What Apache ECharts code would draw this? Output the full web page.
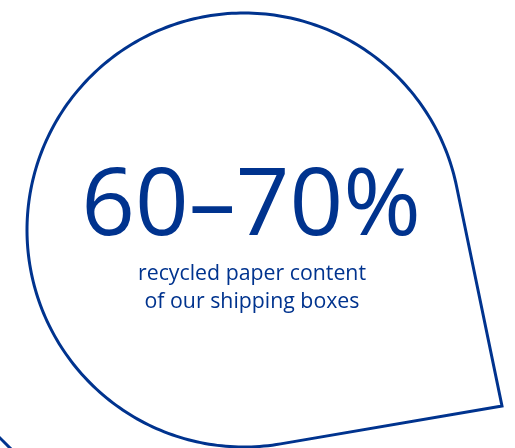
<!DOCTYPE html>
<html>
<head>
<meta charset="utf-8">
<script src="https://cdn.jsdelivr.net/npm/echarts@6/dist/echarts.min.js"></script>
<style>
html,body{margin:0;padding:0;background:#fff;}
#chart{width:515px;height:448px;}
</style>
</head>
<body>
<div id="chart"></div>
<script>
// Data
var rangeValues = [60, 70];
var rangeUnit = '%';
var captionLines = ['recycled paper content', 'of our shipping boxes'];

var BLUE = '#00338e';
var chart = echarts.init(document.getElementById('chart'), null, {renderer: 'canvas'});

// teardrop geometry (circle + pointed corner)
var cx = 244, cy = 230, r = 217;
var px = 502, py = 406;
var dx = px - cx, dy = py - cy, d = Math.sqrt(dx * dx + dy * dy);
var base = Math.atan2(dy, dx), alpha = Math.acos(r / d);
var a1 = base - alpha, a2 = base + alpha;
var pts = [];
var start = a1, end = a2 - 2 * Math.PI;
var N = 240;
for (var i = 0; i <= N; i++) {
  var a = start + (end - start) * i / N;
  pts.push([cx + r * Math.cos(a), cy + r * Math.sin(a)]);
}
pts.push([px, py]);

var headline = rangeValues[0] + '\u2013' + rangeValues[1] + rangeUnit;

chart.setOption({
  animation: false,
  backgroundColor: '#ffffff',
  graphic: [
    {
      type: 'polygon',
      shape: {points: pts},
      style: {fill: 'none', stroke: BLUE, lineWidth: 3, lineJoin: 'miter'}
    },
    {
      type: 'line',
      shape: {x1: -2, y1: 436, x2: 14, y2: 452},
      style: {stroke: BLUE, lineWidth: 3}
    },
    {
      type: 'text',
      x: 251, y: 161,
      style: {
        text: headline,
        fill: BLUE,
        font: '94px "Open Sans"',
        align: 'center',
        verticalAlign: 'top'
      }
    },
    {
      type: 'text',
      x: 252, y: 263,
      style: {
        text: captionLines[0],
        fill: BLUE,
        font: '21.3px "Open Sans"',
        align: 'center',
        verticalAlign: 'top'
      }
    },
    {
      type: 'text',
      x: 252, y: 291,
      style: {
        text: captionLines[1],
        fill: BLUE,
        font: '21.3px "Open Sans"',
        align: 'center',
        verticalAlign: 'top'
      }
    }
  ]
});
</script>
</body>
</html>
